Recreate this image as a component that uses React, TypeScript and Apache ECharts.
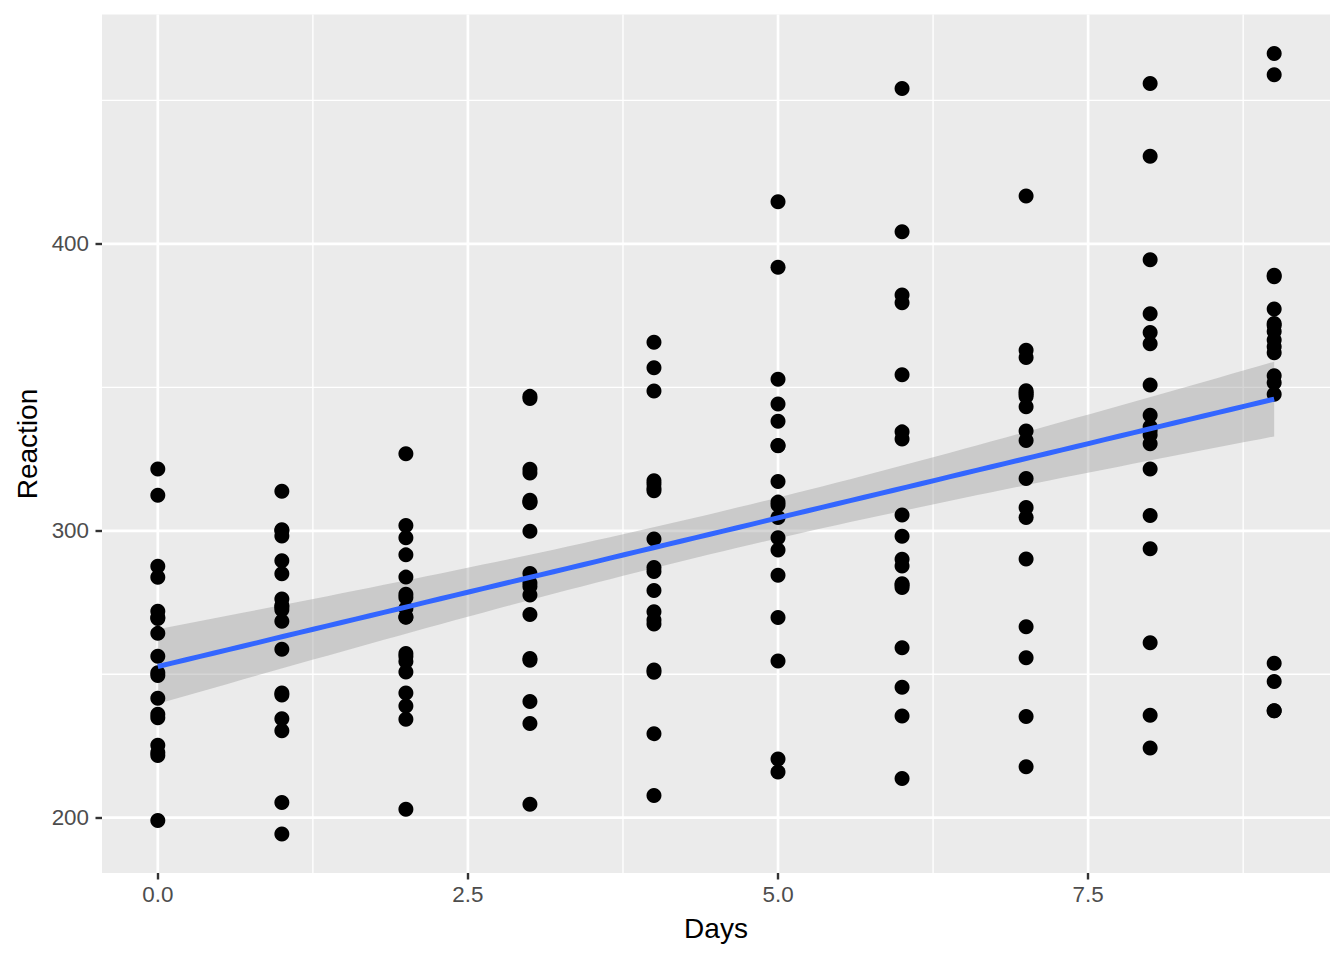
import React, { useEffect, useRef } from "react";
import * as echarts from "echarts";

// sleepstudy: Days 0..9, one array of Reaction values per subject
const days = [0, 1, 2, 3, 4, 5, 6, 7, 8, 9];
const s308 = [249.56, 258.7047, 250.8006, 321.4398, 356.8519, 414.6901, 382.2038, 290.1486, 430.5853, 466.3535];
const s309 = [222.7339, 205.2658, 202.9778, 204.707, 207.7161, 215.9618, 213.6303, 217.7272, 224.2957, 237.3142];
const s310 = [199.0539, 194.3322, 234.32, 232.8416, 229.3074, 220.4579, 235.4208, 255.7511, 261.0125, 247.5153];
const s330 = [321.5426, 300.4002, 283.8565, 285.133, 285.7973, 297.5855, 280.2396, 318.2613, 305.3495, 354.0487];
const s331 = [287.6079, 285.0, 301.8206, 320.1153, 316.2773, 293.3187, 290.075, 334.8177, 293.7469, 371.5811];
const s332 = [234.8606, 242.8118, 272.9613, 309.7688, 317.4629, 309.9976, 454.1619, 346.8311, 330.3003, 253.8644];
const s333 = [283.8424, 289.555, 276.7693, 299.8097, 297.171, 338.1665, 332.0265, 348.8399, 333.36, 362.0428];
const s334 = [264.2518, 276.2012, 270.0, 310.0, 314.0, 309.0, 305.5, 331.5, 335.0, 377.3];
const s335 = [241.6083, 273.9472, 254.4907, 270.8021, 251.4519, 254.6362, 245.4523, 235.311, 235.7541, 237.2466];
const s337 = [312.3666, 313.8058, 291.6112, 346.1222, 365.7324, 391.8385, 404.2601, 416.6923, 455.8643, 458.9167];
const s349 = [236.1032, 230.3167, 243.5, 254.922, 250.7103, 269.7744, 281.5648, 308.102, 336.2806, 351.6451];
const s350 = [256.2968, 243.4543, 256.2046, 255.5271, 268.9165, 329.7247, 379.4445, 362.9184, 394.4872, 389.0527];
const s351 = [250.5265, 300.0576, 269.8939, 280.5891, 271.8274, 304.6336, 287.7466, 266.5955, 321.5418, 347.5655];
const s352 = [221.6771, 298.1939, 326.8785, 346.8555, 348.7402, 352.8287, 354.4266, 360.4326, 375.6406, 388.5417];
const s369 = [271.9235, 268.4369, 257.2424, 277.6566, 314.8222, 317.2135, 298.1353, 348.1229, 340.28, 366.5131];
const s370 = [225.264, 234.5235, 238.9008, 240.473, 267.5373, 344.1937, 281.1481, 347.5855, 365.163, 372.2288];
const s371 = [269.8804, 272.4428, 277.8989, 281.7895, 279.1705, 284.512, 259.2658, 304.6306, 350.7807, 369.4692];
const s372 = [269.4117, 273.474, 297.5968, 310.6316, 287.1726, 329.6076, 334.4818, 343.2199, 369.1417, 364.1236];

const subjects = [s308, s309, s310, s330, s331, s332, s333, s334, s335, s337, s349, s350, s351, s352, s369, s370, s371, s372];

const xTicks = [0, 2.5, 5, 7.5];
const xMinor = [1.25, 3.75, 6.25, 8.75];
const yTicks = [200, 300, 400];
const yMinor = [250, 350, 450];

const FONT = "'Liberation Sans', Arial, Helvetica, sans-serif";

function buildPoints(): number[][] {
  const pts: number[][] = [];
  subjects.forEach((s) => s.forEach((v, i) => pts.push([days[i], v])));
  return pts;
}

// linear model fit with 95% confidence band (as geom_smooth(method = "lm"))
function fitLm(pts: number[][]) {
  const n = pts.length;
  const mx = pts.reduce((a, p) => a + p[0], 0) / n;
  const my = pts.reduce((a, p) => a + p[1], 0) / n;
  let sxx = 0, sxy = 0;
  pts.forEach((p) => { sxx += (p[0] - mx) ** 2; sxy += (p[0] - mx) * (p[1] - my); });
  const b = sxy / sxx;
  const a = my - b * mx;
  let rss = 0;
  pts.forEach((p) => { rss += (p[1] - a - b * p[0]) ** 2; });
  const sigma = Math.sqrt(rss / (n - 2));
  const tq = 1.97338;
  const xmin = Math.min(...pts.map((p) => p[0]));
  const xmax = Math.max(...pts.map((p) => p[0]));
  const xs: number[] = [];
  const fit: number[] = [];
  const lo: number[] = [];
  const hi: number[] = [];
  const N = 80;
  for (let i = 0; i < N; i++) {
    const x = xmin + ((xmax - xmin) * i) / (N - 1);
    const f = a + b * x;
    const se = sigma * Math.sqrt(1 / n + (x - mx) ** 2 / sxx);
    xs.push(x); fit.push(f); lo.push(f - tq * se); hi.push(f + tq * se);
  }
  return { xs, fit, lo, hi };
}

export default function App() {
  const ref = useRef<HTMLDivElement>(null);
  useEffect(() => {
    if (!ref.current) return;
    const chart = echarts.init(ref.current, undefined, { renderer: "svg" });
    const pts = buildPoints();
    const { xs, fit, lo, hi } = fitLm(pts);
    const xvals = pts.map((p) => p[0]);
    const yvals = pts.map((p) => p[1]);
    const xr = [Math.min(...xvals), Math.max(...xvals)];
    const yr = [Math.min(...yvals), Math.max(...yvals)];
    const xpad = (xr[1] - xr[0]) * 0.05;
    const ypad = (yr[1] - yr[0]) * 0.05;

    const gridData: number[][] = [];
    xMinor.forEach((v) => gridData.push([0, v, 0]));
    yMinor.forEach((v) => gridData.push([1, v, 0]));
    xTicks.forEach((v) => gridData.push([0, v, 1]));
    yTicks.forEach((v) => gridData.push([1, v, 1]));

    const option: any = {
      animation: false,
      grid: {
        left: 102, right: 14, top: 14.5, bottom: 87,
        show: true, backgroundColor: "#EBEBEB", borderWidth: 0,
      },
      xAxis: {
        type: "value",
        min: xr[0] - xpad, max: xr[1] + xpad,
        axisLine: { show: false, onZero: false },
        splitLine: { show: false },
        axisTick: { show: true, customValues: xTicks, length: 6.5, lineStyle: { color: "#333333", width: 2.4 } },
        axisLabel: {
          customValues: xTicks, formatter: (v: number) => v.toFixed(1),
          color: "#4D4D4D", fontSize: 22.4, fontFamily: FONT, margin: 10,
        },
      },
      yAxis: {
        type: "value",
        min: yr[0] - ypad, max: yr[1] + ypad,
        axisLine: { show: false, onZero: false },
        splitLine: { show: false },
        axisTick: { show: true, customValues: yTicks, length: 6.5, lineStyle: { color: "#333333", width: 2.4 } },
        axisLabel: {
          customValues: yTicks, formatter: (v: number) => String(v),
          color: "#4D4D4D", fontSize: 22.4, fontFamily: FONT, margin: 13,
        },
      },
      graphic: [
        { type: "text", x: 716, y: 928, style: { text: "Days", fill: "#000", font: `28px ${FONT}`, textAlign: "center", textVerticalAlign: "middle" } },
        { type: "text", x: 27, y: 444, rotation: Math.PI / 2, style: { text: "Reaction", fill: "#000", font: `28px ${FONT}`, textAlign: "center", textVerticalAlign: "middle" } },
      ],
      series: [
        {
          type: "custom",
          silent: true,
          data: gridData,
          renderItem: (params: any, api: any) => {
            const cs = params.coordSys;
            const axis = api.value(0);
            const v = api.value(1);
            const major = api.value(2) === 1;
            const style = { stroke: "#FFFFFF", lineWidth: major ? 2.7 : 1.35 };
            if (axis === 0) {
              const px = api.coord([v, yr[0]])[0];
              return { type: "line", shape: { x1: px, y1: cs.y, x2: px, y2: cs.y + cs.height }, style };
            }
            const py = api.coord([xr[0], v])[1];
            return { type: "line", shape: { x1: cs.x, y1: py, x2: cs.x + cs.width, y2: py }, style };
          },
        },
        {
          type: "scatter",
          data: pts,
          symbol: "circle",
          symbolSize: 15,
          itemStyle: { color: "#000000", opacity: 1 },
          silent: true,
        },
        {
          type: "custom",
          silent: true,
          data: [[xs[0], fit[0]]],
          renderItem: (_params: any, api: any) => {
            const poly: number[][] = [];
            for (let i = 0; i < xs.length; i++) poly.push(api.coord([xs[i], hi[i]]));
            for (let i = xs.length - 1; i >= 0; i--) poly.push(api.coord([xs[i], lo[i]]));
            return { type: "polygon", shape: { points: poly }, style: { fill: "rgba(153,153,153,0.4)" } };
          },
        },
        {
          type: "line",
          data: xs.map((x, i) => [x, fit[i]]),
          showSymbol: false,
          symbol: "none",
          lineStyle: { color: "#3366FF", width: 5 },
          silent: true,
        },
      ],
    };
    chart.setOption(option);
    return () => chart.dispose();
  }, []);
  return <div ref={ref} style={{ position: "absolute", left: 0, top: 0, width: 1344, height: 960 }} />;
}
